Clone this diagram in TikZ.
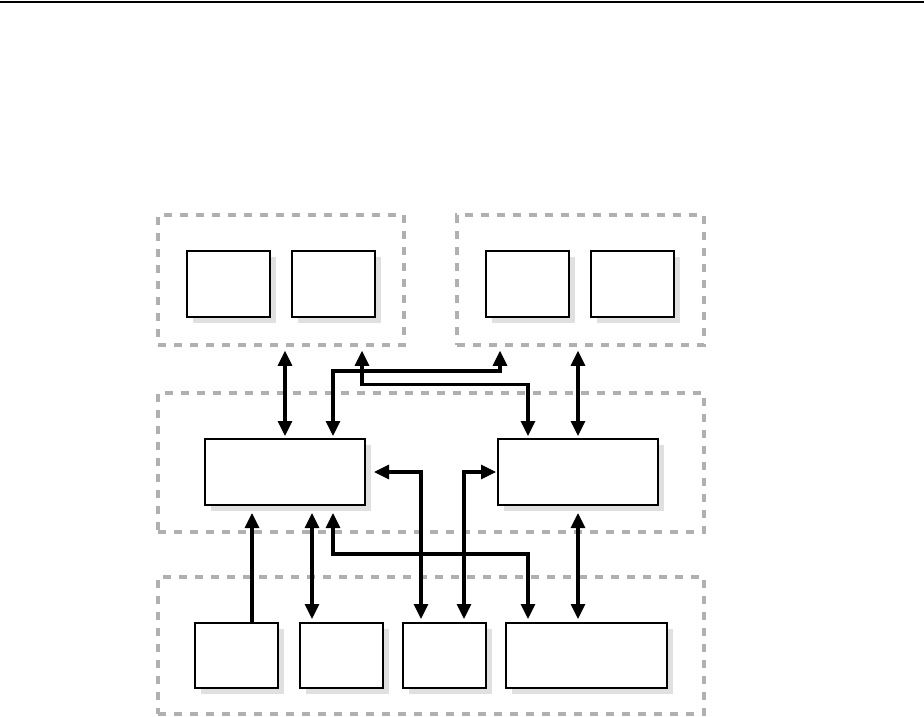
\documentclass[tikz,border=0pt]{standalone}
\usetikzlibrary{arrows.meta,shadows}

\tikzset{
  grupo/.style={draw=black!31, line width=3.5pt, dash pattern=on 8pt off 8pt, inner sep=0pt},
  caja/.style={draw, fill=white, line width=2pt, inner sep=0pt,
    drop shadow={shadow xshift=6pt, shadow yshift=-6pt, fill=black!12, opacity=1}},
  punta/.tip={Triangle[length=15pt,width=14pt]},
  enlace/.style={line width=3.2pt, shorten <=3pt, shorten >=3pt},
}

\begin{document}
\begin{tikzpicture}[x=1pt, y=-1pt]
    \useasboundingbox (0,0) rectangle (924,717);

    % Linea superior
    \draw[line width=2pt] (0,2) -- (924,2);

    % Grupos
    \node[grupo, minimum width=246pt, minimum height=130pt] (grpA) at (281,280) {};
    \node[grupo, minimum width=247pt, minimum height=130pt] (grpB) at (580.5,280) {};
    \node[grupo, minimum width=546pt, minimum height=139pt] (grpC) at (431,462.5) {};
    \node[grupo, minimum width=546pt, minimum height=137pt] (grpD) at (431,645.5) {};

    % Cajas de arriba
    \foreach \n/\x in {a1/228.5, a2/333.5, b1/527.5, b2/632.5} {
        \node[caja, minimum width=83pt, minimum height=66pt] (\n) at (\x,284) {};
    }

    % Cajas del medio
    \node[caja, minimum width=160pt, minimum height=66pt] (mL) at (285,472) {};
    \node[caja, minimum width=160pt, minimum height=66pt] (mR) at (578,472) {};

    % Cajas de abajo
    \foreach \n/\x in {d1/236.5, d2/341.5, d3/444.5} {
        \node[caja, minimum width=83pt, minimum height=65pt] (\n) at (\x,655.5) {};
    }
    \node[caja, minimum width=161pt, minimum height=65pt] (d4) at (586.5,655.5) {};

    % Flechas arriba
    \draw[enlace, shorten <=4pt, shorten >=2pt, punta-punta] (mL.north |- grpA.south) -- (mL.north);
    \draw[enlace, shorten <=4pt, shorten >=2pt, punta-punta] (mR.north |- grpB.south) -- (mR.north);
    \draw[enlace, shorten <=4pt, shorten >=2pt, punta-punta]
        ([xshift=81pt]grpA.south) -- ++(0,38) -| ([xshift=-50pt]mR.north);
    \draw[enlace, shorten <=2pt, shorten >=4pt, punta-punta]
        ([xshift=48pt]mL.north) -- ++(0,-67) -| ([xshift=-80.5pt]grpB.south);

    % Flechas abajo
    \draw[enlace, shorten <=0pt, shorten >=7pt, -punta]
        ([xshift=15.5pt]d1.north) -- ([xshift=15.5pt]d1.north |- mL.south);
    \draw[enlace, shorten <=7pt, shorten >=3pt, punta-punta]
        ([xshift=27pt]mL.south) -- ([xshift=-29.5pt]d2.north);
    \draw[enlace, shorten <=7pt, shorten >=3pt, punta-punta]
        ([xshift=48pt]mL.south) -- ++(0,48) -| ([xshift=-58.5pt]d4.north);
    \draw[enlace, shorten <=3pt, shorten >=8pt, punta-punta]
        ([xshift=-23.5pt]d3.north) |- (mL.east);
    \draw[enlace, shorten <=3pt, shorten >=1pt, punta-punta]
        ([xshift=19.5pt]d3.north) |- (mR.west);
    \draw[enlace, shorten <=7pt, shorten >=3pt, punta-punta]
        (mR.south) -- (mR.south |- d4.north);
\end{tikzpicture}
\end{document}
